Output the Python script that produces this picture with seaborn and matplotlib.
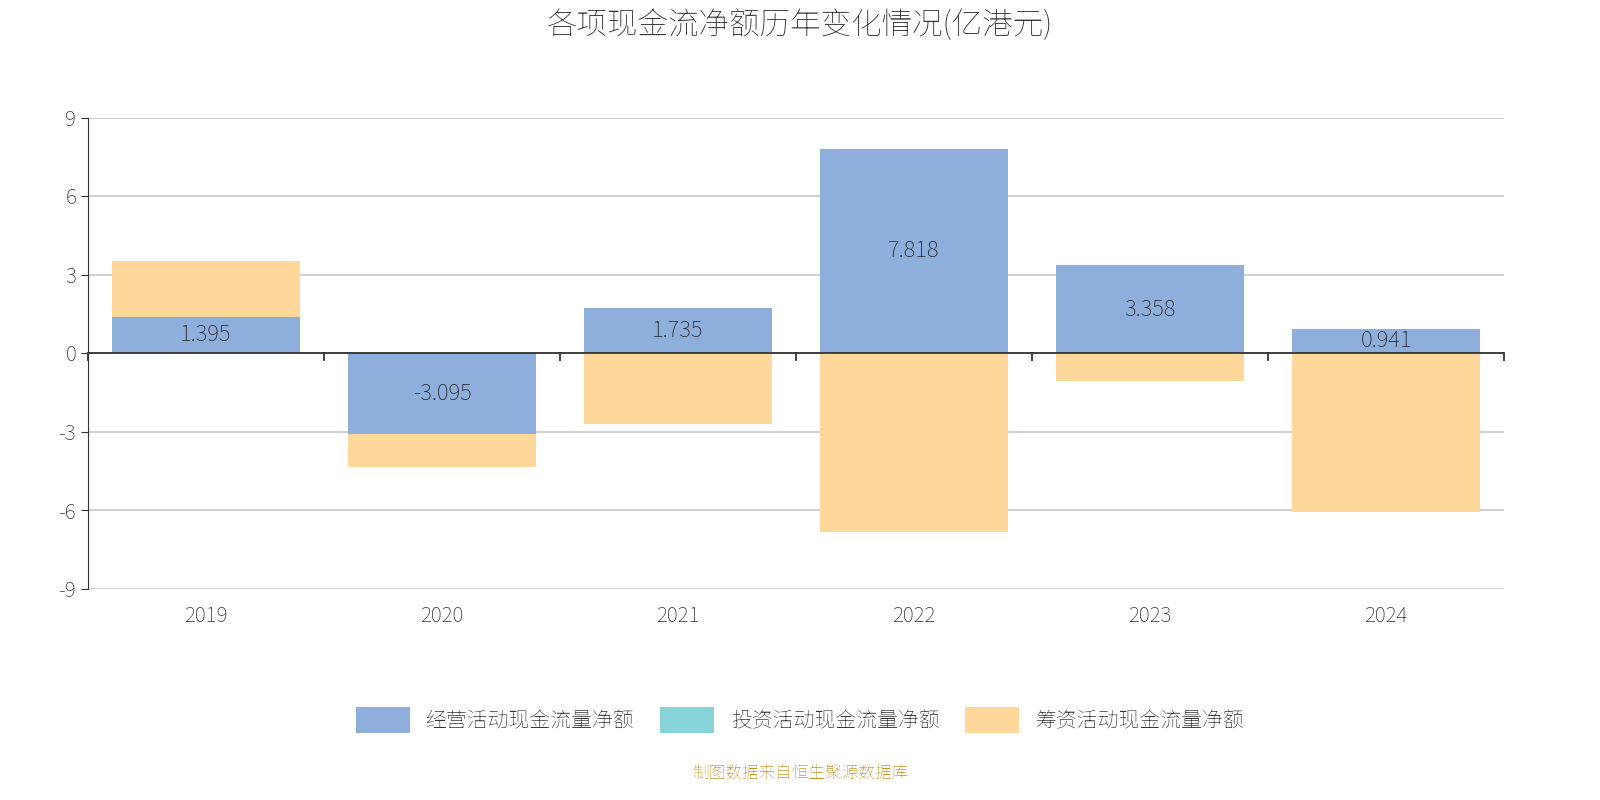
import numpy as np
import pandas as pd
import matplotlib.pyplot as plt
from matplotlib import font_manager as fm
import seaborn as sns

# register the CJK font explicitly
cjk = "DejaVu Sans"
for f in fm.findSystemFonts():
    if "NotoSansCJK" in f.replace(" ", "") or "NotoSansSC" in f.replace(" ", ""):
        fm.fontManager.addfont(f)
        cjk = fm.FontProperties(fname=f).get_name()
        break
plt.rcParams["font.family"] = [cjk, "Noto Sans CJK SC", "DejaVu Sans"]
plt.rcParams["axes.unicode_minus"] = False

years = ["2019", "2020", "2021", "2022", "2023", "2024"]
operating = [1.395, -3.095, 1.735, 7.818, 3.358, 0.941]
investing = [0, 0, 0, 0, 0, 0]
financing = [2.13, -1.24, -2.72, -6.82, -1.07, -6.05]

c_op, c_inv, c_fin = "#8eaedb", "#86d3d8", "#fed89a"

df = pd.DataFrame({"year": years, "op": operating, "inv": investing, "fin": financing})
# stack each series on the same-sign part below it
fin_bottom = [o if np.sign(o) == np.sign(f) else 0 for o, f in zip(operating, financing)]

fig = plt.figure(figsize=(16, 8), dpi=100)
ax = fig.add_axes([0.055, 0.264, 0.885, 0.589])

for i in range(-9, 10, 3):
    ax.axhline(i, color="#c8c8c8", lw=1.2, zorder=0)

sns.barplot(data=df, x="year", y="op", color=c_op, width=0.8, ax=ax,
            saturation=1, zorder=2)
sns.barplot(data=df, x="year", y="fin", color=c_fin, width=0.8, ax=ax,
            saturation=1, bottom=fin_bottom, zorder=2)

for i, v in enumerate(operating):
    ax.text(i, v / 2, f"{v:.3f}", ha="center", va="center",
            fontsize=16, color="#222222", zorder=3)

ax.set_ylim(-9, 9)
ax.set_xlim(-0.5, 5.5)
ax.set_yticks(range(-9, 10, 3))
ax.set_xlabel("")
ax.set_ylabel("")
for s in ["top", "right", "bottom"]:
    ax.spines[s].set_visible(False)
ax.spines["left"].set_color("#333333")
ax.axhline(0, color="#333333", lw=1.3, zorder=3)
for b in np.arange(-0.5, 6, 1):
    ax.plot([b, b], [0, -0.25], color="#333333", lw=1.3, zorder=3, clip_on=False)
ax.tick_params(axis="x", length=0, labelsize=15, colors="#333333", pad=12)
ax.tick_params(axis="y", labelsize=15, colors="#333333", length=5)

fig.text(0.5, 0.968, "各项现金流净额历年变化情况(亿港元)", ha="center", va="center",
         fontsize=22, fontweight="bold", color="#333333")

handles = [plt.Rectangle((0, 0), 1, 1, fc=c, ec="none") for c in (c_op, c_inv, c_fin)]
fig.legend(handles, ["经营活动现金流量净额", "投资活动现金流量净额", "筹资活动现金流量净额"],
           loc="center", bbox_to_anchor=(0.5, 0.1), ncol=3, frameon=False,
           fontsize=15, handlelength=2.6, handleheight=1.5, columnspacing=1.2,
           labelcolor="#333333")
fig.text(0.5, 0.034, "制图数据来自恒生聚源数据库", ha="center", va="center",
         fontsize=12, color="#c8962a")

fig.savefig("out.png")
